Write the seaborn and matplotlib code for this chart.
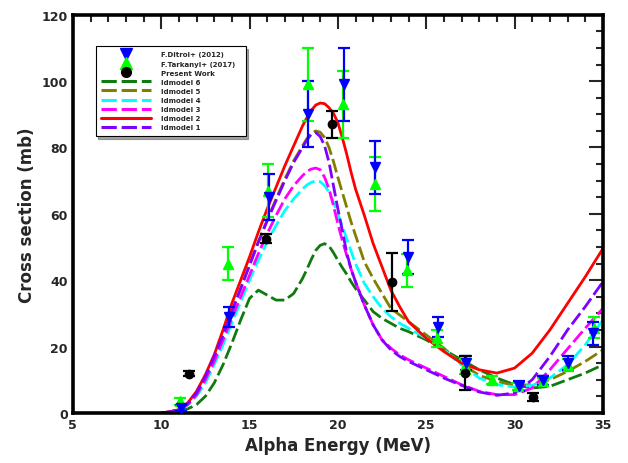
"""Alpha-induced cross section: measured data vs TALYS level-density models."""

import numpy as np
import pandas as pd
import matplotlib
matplotlib.use("Agg")
import matplotlib.pyplot as plt
import seaborn as sns
from matplotlib.lines import Line2D

# model energy grid (MeV), denser around the peak
energy = [10, 10.5, 11, 11.5, 12, 12.5, 13, 13.5, 14, 14.5, 15, 15.5, 16, 16.5,
          17, 17.5, 18, 18.25, 18.5, 18.75, 19, 19.25, 19.5, 19.75, 20, 20.25,
          20.5, 20.75, 21, 21.5, 22, 22.5, 23, 23.5,
          24, 25, 26, 27, 28, 29, 30, 31, 32, 33, 34, 35]

ldmodel1 = [0, 0.3, 1, 2.8, 6, 11, 17, 23.5, 30.5, 37.5, 44.5, 51.5, 58, 64,
            70, 75.5, 80, 82.3, 84, 84.5, 83.3, 80.5, 75.5, 68.5, 61.5, 55,
            48.3, 43.3, 39.5, 32.5, 26.5, 22, 19, 17,
            15.5, 13, 10.5, 8.3, 6.3, 5.3, 6, 10, 17, 25, 32, 39.5]
ldmodel2 = [0, 0.3, 1, 3, 6.5, 11.5, 17.5, 25, 33, 40, 47, 54.5, 61.5, 68,
            74.5, 80.5, 86.5, 89, 91.2, 92.8, 93.4, 93.2, 92, 90.3, 87.5, 83,
            78, 72.5, 67.5, 59.5, 51, 44, 37, 32,
            27.5, 22.5, 18.5, 15, 13, 12, 13.5, 18, 25, 33, 41, 49.5]
ldmodel3 = [0, 0.3, 1, 2.5, 5.5, 10, 15.5, 22, 28.5, 35, 41.5, 48, 54, 59.5,
            64.5, 68.5, 71.5, 72.8, 73.5, 73.8, 73.3, 71, 67.5, 62.5, 57, 52,
            47.5, 43.3, 39.5, 32.5, 26.5, 22, 19.5, 17.5,
            16, 13.5, 11, 8.5, 6.5, 5.5, 5.5, 7.5, 13, 19.3, 25.5, 31.5]
ldmodel4 = [0, 0.3, 1, 2.3, 5, 9, 14.5, 20.5, 27, 33.5, 40, 46, 51.5, 56.5,
            61, 64.5, 67.5, 68.7, 69.5, 69.9, 69.7, 68.5, 66.5, 63.5, 60, 56.3,
            52.5, 48.7, 45, 39, 35, 31.5, 29, 27,
            25.5, 22.5, 19, 14.5, 10.5, 8.5, 7.8, 8.3, 10.5, 14.5, 20.5, 28]
ldmodel5 = [0, 0.3, 1, 2.8, 6, 11, 17, 23.5, 30.5, 37.5, 44.5, 51.5, 58, 64.5,
            70.5, 76, 80.5, 82.7, 84.3, 85, 84.6, 83, 80, 75.8, 71, 66.5,
            62, 57.5, 53.5, 45.5, 40.5, 36, 31.5, 29.5,
            27.5, 23.5, 19.5, 14.8, 11.3, 9.5, 8.3, 8.5, 10, 12.5, 15.5, 19]
ldmodel6 = [0, 0.2, 0.5, 1.2, 2.5, 5, 9, 14.5, 21, 28, 34.5, 37, 35.5, 34,
            34, 36, 40.5, 43.3, 46.3, 49, 50.5, 51, 50.3, 48.3, 46, 43.8,
            41.8, 39.5, 37.5, 34, 30.5, 28.5, 27, 25.5,
            24.5, 22, 19, 16, 13, 10.5, 8.5, 7.5, 8, 10, 12, 14.5]

# F.Ditroi+ (2012)
ditroi_e   = [11.1, 13.85, 16.1, 18.3, 20.35, 22.1, 23.95, 25.65, 27.25, 30.25, 31.6, 33.0, 34.45]
ditroi_xs  = [1.5, 29, 65, 90, 99, 74, 47, 26, 15, 8.2, 9.8, 15, 24]
ditroi_err = [1.0, 3, 7, 10, 11, 8, 5, 3, 2.2, 1.5, 1.3, 2.2, 3.5]

# F.Tarkanyi+ (2017)
tark_e   = [11.05, 13.8, 16.05, 18.3, 20.3, 22.1, 23.9, 25.6, 27.2, 28.75, 30.2, 31.6, 33.0, 34.5]
tark_xs  = [3.5, 45, 67, 99, 93, 69, 43, 22.5, 14, 10, 8, 9.5, 14.5, 25.7]
tark_err = [1.0, 5, 8, 11, 10, 8, 5, 2.5, 2.3, 1.2, 1, 1, 1.8, 3.2]

# Present Work
pw_e   = [11.6, 15.95, 19.65, 23.05, 27.2, 31.05]
pw_xs  = [11.8, 52.5, 87, 39.5, 12, 4.7]
pw_err = [0.8, 1.3, 4, 8.8, 5.2, 1.2]

models = {
    "ldmodel 6": (ldmodel6, "#0f7a0f"),
    "ldmodel 5": (ldmodel5, "#808000"),
    "ldmodel 4": (ldmodel4, "#00ffff"),
    "ldmodel 3": (ldmodel3, "#ff00ff"),
    "ldmodel 2": (ldmodel2, "#ff0000"),
    "ldmodel 1": (ldmodel1, "#7f00ff"),
}

sns.set_style("white")
plt.rcParams["font.family"] = ["DejaVu Sans"]

fig = plt.figure(figsize=(6.28, 4.64), dpi=100)
ax = fig.add_axes([0.116, 0.108, 0.844, 0.858])

handles = []
for name, (vals, color) in models.items():
    df = pd.DataFrame({"E": energy, "xs": vals})
    style = "-" if name == "ldmodel 2" else (0, (5, 1.6))
    sns.lineplot(data=df, x="E", y="xs", ax=ax, color=color, lw=2.0,
                 linestyle=style, zorder=2)
    handles.append(Line2D([], [], color=color, lw=2.2, linestyle=style,
                          label=name.replace("l", "I", 1)))

eb = dict(lw=1.6, capsize=4, capthick=1.6, ls="none", zorder=3)
ax.errorbar(tark_e, tark_xs, yerr=tark_err, fmt="^", color="#00ff00", ms=7, **eb)
ax.errorbar(ditroi_e, ditroi_xs, yerr=ditroi_err, fmt="v", color="#0000ff", ms=7.5, **eb)
ax.errorbar(pw_e, pw_xs, yerr=pw_err, fmt="o", color="black", ms=6, **eb)

mk = [Line2D([], [], color="#0000ff", marker="v", ls="none", ms=8, label="F.Ditroi+ (2012)"),
      Line2D([], [], color="#00ff00", marker="^", ls="none", ms=8, label="F.Tarkanyi+ (2017)"),
      Line2D([], [], color="black", marker="o", ls="none", ms=7, label="Present Work")]

leg = ax.legend(handles=mk + handles, loc="upper left",
                bbox_to_anchor=(0.043, 0.696, 0.283, 0.226), mode="expand",
                borderaxespad=0, prop={"weight": "bold", "size": 5},
                handlelength=7.2, labelspacing=0.45, handletextpad=1.4,
                fancybox=False, shadow=True, framealpha=1, borderpad=0.8)
leg.get_frame().set_edgecolor("black")
leg.get_frame().set_linewidth(0.8)

ax.set_xlim(5, 35)
ax.set_ylim(0, 120)
ax.set_xticks(np.arange(5, 36, 5))
ax.set_xticks(np.arange(5, 36, 1), minor=True)
ax.set_yticks(np.arange(0, 121, 20))
ax.set_yticks(np.arange(0, 121, 5), minor=True)
ax.tick_params(which="both", direction="in", top=True, right=True,
               width=1.5, labelsize=9)
ax.tick_params(which="major", length=10)
ax.tick_params(which="minor", length=5)
for lab in ax.get_xticklabels() + ax.get_yticklabels():
    lab.set_fontweight("bold")
for sp in ax.spines.values():
    sp.set_linewidth(2.6)
    sp.set_color("black")

ax.set_xlabel("Alpha Energy (MeV)", fontsize=12, fontweight="bold")
ax.set_ylabel("Cross section (mb)", fontsize=12, fontweight="bold")

fig.savefig("out.png", dpi=100)
